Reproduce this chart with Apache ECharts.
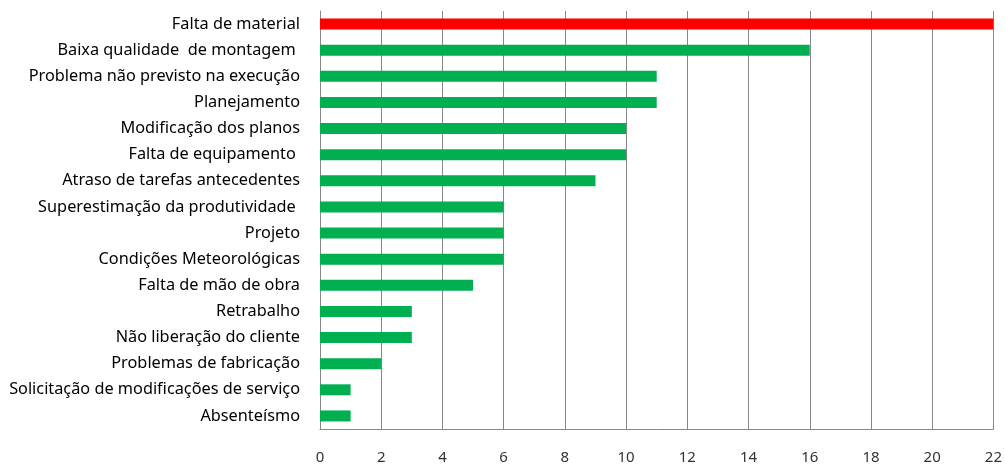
<!DOCTYPE html>
<html><head><meta charset="utf-8">
<script src="https://cdn.jsdelivr.net/npm/echarts@6/dist/echarts.min.js"></script>
<style>html,body{margin:0;padding:0;background:#fff}#c{width:1005px;height:465px}</style>
</head><body><div id="c"></div>
<script>
const categories = [
  "Falta de material",
  "Baixa qualidade  de montagem ",
  "Problema não previsto na execução",
  "Planejamento",
  "Modificação dos planos",
  "Falta de equipamento ",
  "Atraso de tarefas antecedentes",
  "Superestimação da produtividade ",
  "Projeto",
  "Condições Meteorológicas",
  "Falta de mão de obra",
  "Retrabalho",
  "Não liberação do cliente",
  "Problemas de fabricação",
  "Solicitação de modificações de serviço",
  "Absenteísmo"
];
const values = [22, 16, 11, 11, 10, 10, 9, 6, 6, 6, 5, 3, 3, 2, 1, 1];
const barColors = ["#ff0000","#00b050","#00b050","#00b050","#00b050","#00b050","#00b050","#00b050","#00b050","#00b050","#00b050","#00b050","#00b050","#00b050","#00b050","#00b050"];

const chart = echarts.init(document.getElementById('c'), null, {renderer:'canvas'});
chart.setOption({
  animation:false,
  grid:{left:320,right:9,top:11,bottom:34,containLabel:false},
  xAxis:{type:'value',min:0,max:22,interval:2,
    axisLine:{show:true,lineStyle:{color:'#888'}},axisTick:{show:false},
    splitLine:{show:true,lineStyle:{color:'#888',width:1}},
    axisLabel:{color:'#333',fontFamily:'Noto Sans',fontSize:15,margin:21}},
  yAxis:{type:'category',inverse:true,data:categories,
    axisLine:{show:true,lineStyle:{color:'#888'}},axisTick:{show:false},
    axisLabel:{color:'#000',fontFamily:'Noto Sans',fontSize:16.3,margin:20}},
  series:[{type:'bar',barWidth:11,
    data:values.map((v,i)=>({value:v,itemStyle:{color:barColors[i]}}))}]
});
</script></body></html>
